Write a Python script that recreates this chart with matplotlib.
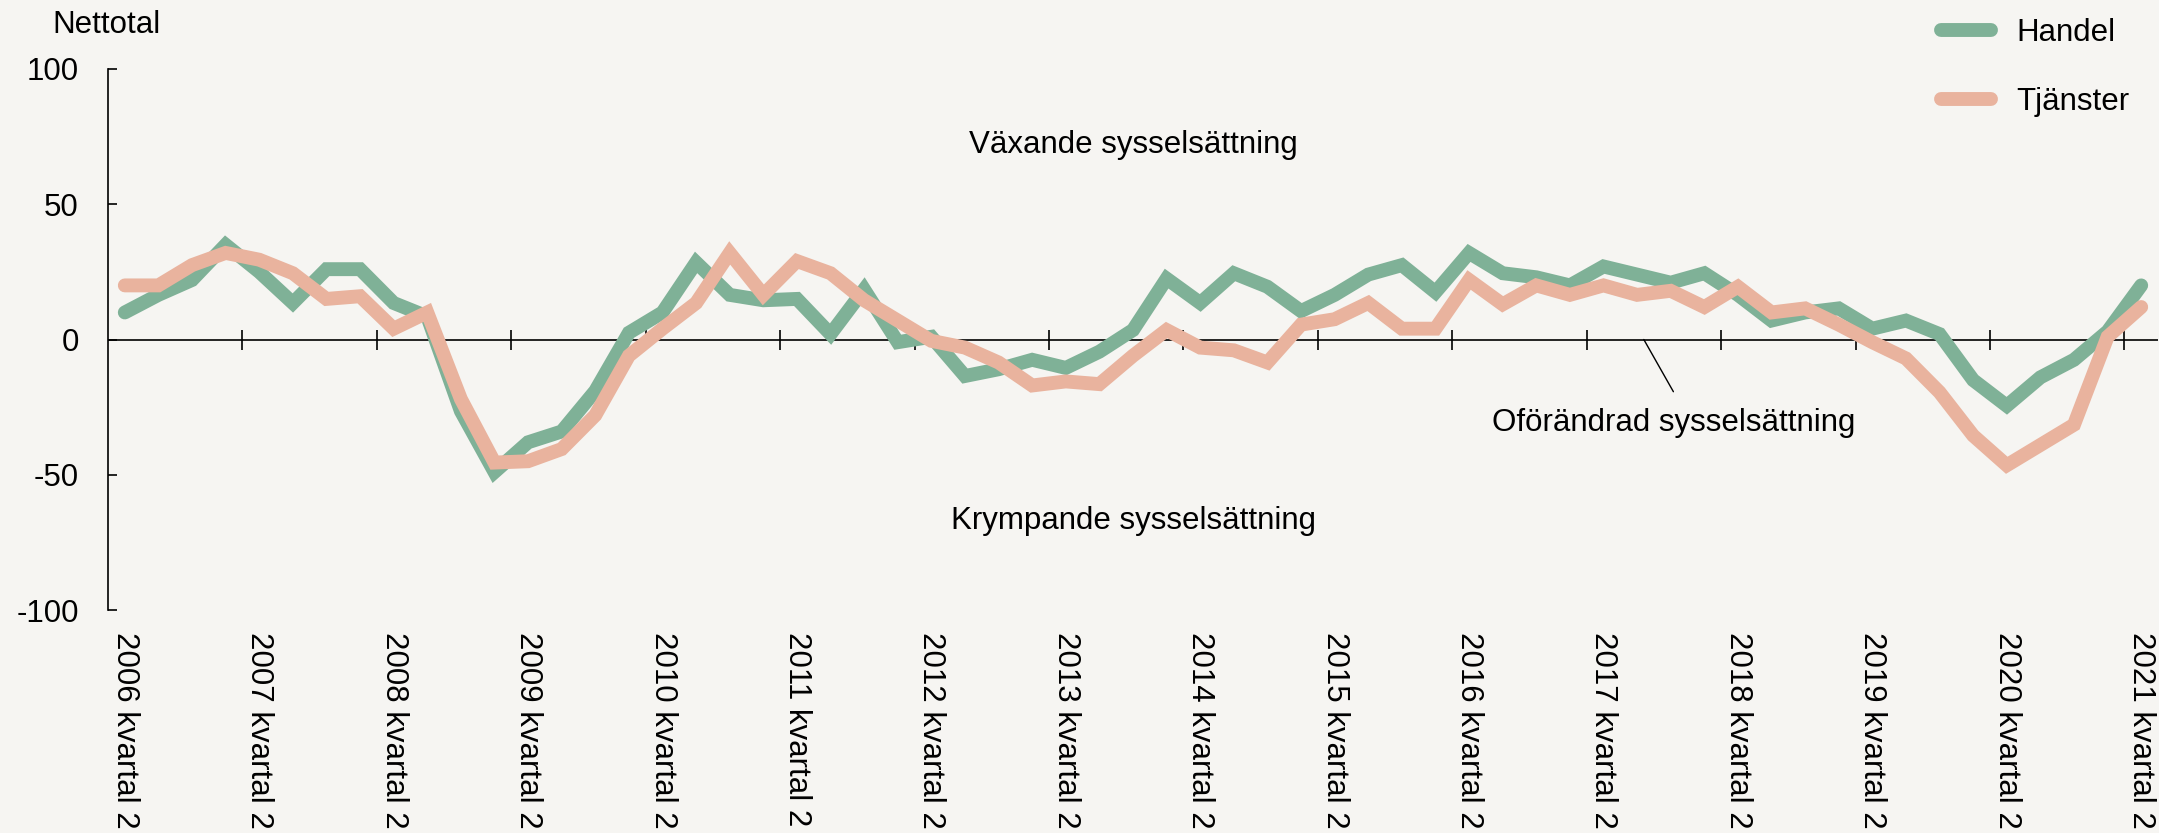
import numpy as np
import matplotlib
matplotlib.use("Agg")
import matplotlib.pyplot as plt

# kvartal från 2006 kv2 till 2021 kv2
quarters = [f"{y} kvartal {q}" for y in range(2006, 2022) for q in range(1, 5)][1:62]

# nettotal
handel = [10, 16.5, 22, 35, 25, 13.5, 26, 26, 13.5, 8.5,
          -26.5, -49, -38, -34, -19, 2.5, 10, 28.5, 16.5, 14.5,
          15, 2, 18.5, -1, 1, -13.5, -11, -7.5, -10.5, -4.5,
          3.5, 22.5, 13.5, 24.5, 19.5, 10.5, 16.5, 24, 27.5, 17.5,
          32, 24.5, 23, 20, 27, 24, 21, 24.5, 16.5, 7,
          10, 11.5, 4, 7, 2, -15, -24.5, -14, -7.5, 3, 20]
tjanster = [20, 20, 27.5, 32, 29.5, 24.5, 15, 16, 4, 10,
            -22, -45.5, -45, -40.5, -28, -6, 4, 13.5, 32, 16.5,
            29, 24.5, 14.5, 7, -0.5, -3, -8.5, -17, -15.5, -16.5,
            -6, 3.5, -3, -4, -8.5, 5.5, 7.5, 13.5, 4, 4,
            22, 13, 20, 16.5, 20, 16.5, 18, 12, 19.5, 10,
            11.5, 5.5, -1, -7, -19.5, -35.5, -46.5, -39, -31.5, 1, 12]

series_names = ["Handel", "Tjänster"]
yticks = [-100, -50, 0, 50, 100]

BG = "#f6f5f2"
GREEN = "#7fb197"
PINK = "#e9b39e"
FS = 22.5

plt.rcParams["font.family"] = ["Liberation Sans", "DejaVu Sans"]

W, H = 2159, 833
fig = plt.figure(figsize=(W / 100, H / 100), dpi=100, facecolor=BG)
# axlarna: x = -0.5 .. 60.5, y = -100 .. 100
ax = fig.add_axes([108 / W, 1 - 610 / H, 2050 / W, (610 - 69) / H], facecolor=BG)

x = np.arange(len(quarters))
for vals, name, col in [(handel, series_names[0], GREEN), (tjanster, series_names[1], PINK)]:
    ax.plot(x, vals, color=col, lw=10, label=name,
            solid_capstyle="round", solid_joinstyle="miter", zorder=3)

ax.set_xlim(-0.5, len(quarters) - 0.5)
ax.set_ylim(-100, 100)

for s in ["top", "right", "bottom"]:
    ax.spines[s].set_visible(False)
ax.spines["left"].set_linewidth(1.2)

ax.set_yticks(yticks)
ax.set_yticklabels([str(v) for v in yticks])
ax.tick_params(axis="y", direction="in", length=6.3, width=1.2, pad=21, labelsize=FS)

ax.set_xticks(x[::4])
ax.set_xticklabels(quarters[::4])
ax.tick_params(axis="x", length=0, pad=15.5, labelsize=FS, labelrotation=270)

# nollinjen med streck mellan åren
ax.axhline(0, color="black", lw=1.2, zorder=1)
year_breaks = x[3::4] + 0.5
ax.plot(year_breaks, np.zeros(len(year_breaks)), ls="none", marker="|",
        ms=14.4, mew=1.2, color="black", zorder=1)

# texter i diagrammet
ax.text(30, 72, "Växande sysselsättning", ha="center", va="center", fontsize=FS)
ax.text(30, -67, "Krympande sysselsättning", ha="center", va="center", fontsize=FS)
ax.annotate("", xy=(45.2, 0), xytext=(46.08, -19.3),
            arrowprops=dict(arrowstyle="-", lw=1, color="black", shrinkA=0, shrinkB=0))
ax.text(46.1, -31, "Oförändrad sysselsättning", ha="center", va="center", fontsize=FS)

# rubrik för y-axeln, i pixlar
fig.text(52, H - 25, "Nettotal", ha="left", va="center", fontsize=FS, transform=None)

fig.legend(loc="upper left", bbox_to_anchor=(1941 / W, 1 - 18 / H), frameon=False,
           fontsize=FS, handlelength=1.6, handletextpad=0.8, labelspacing=1.25,
           borderpad=0, borderaxespad=0)

fig.savefig("out.png", dpi=100, facecolor=BG)
